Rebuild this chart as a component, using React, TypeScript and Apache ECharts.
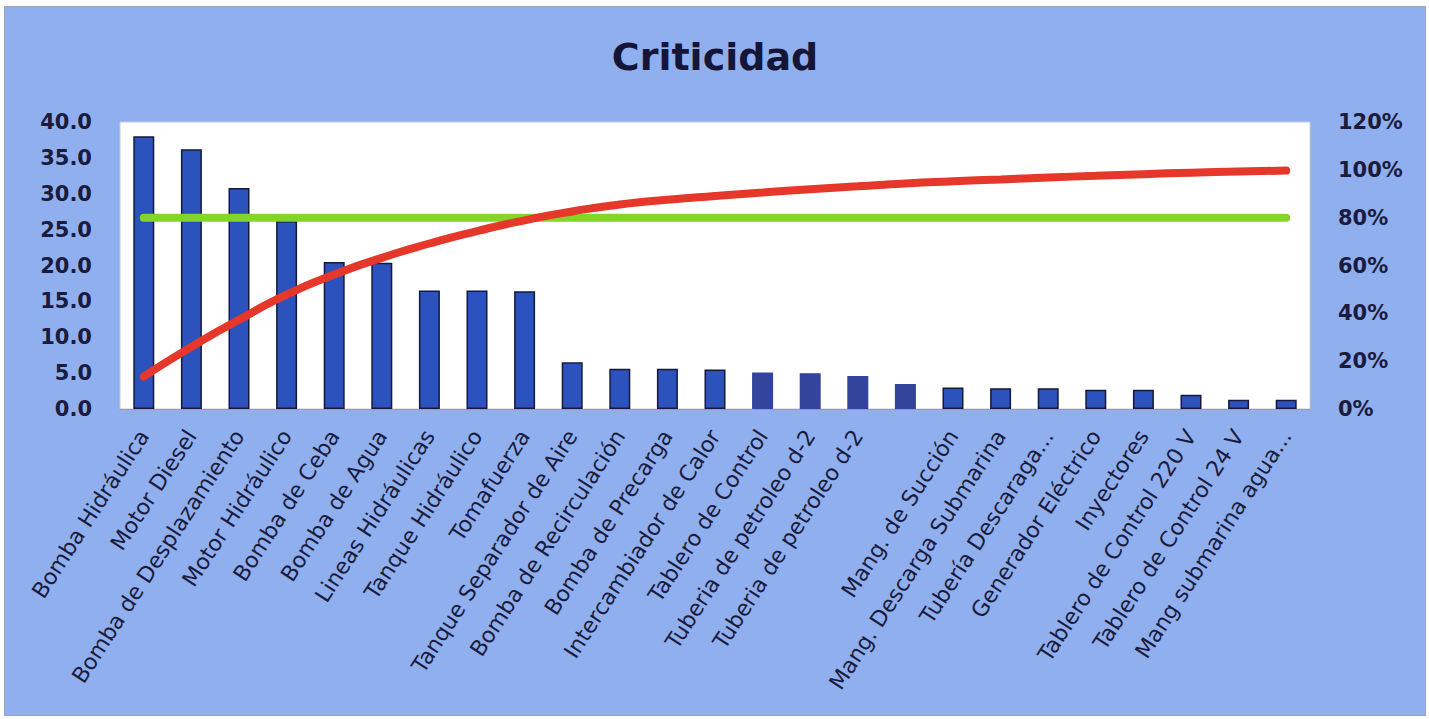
import React, { useEffect, useRef } from "react";
import * as echarts from "echarts";

const categories = [
  "Bomba Hidráulica",
  "Motor Diesel",
  "Bomba de Desplazamiento",
  "Motor Hidráulico",
  "Bomba de Ceba",
  "Bomba de Agua",
  "Lineas Hidráulicas",
  "Tanque Hidráulico",
  "Tomafuerza",
  "Tanque Separador de Aire",
  "Bomba de Recirculación",
  "Bomba de Precarga",
  "Intercambiador de Calor",
  "Tablero de Control",
  "Tuberia de petroleo d-2",
  "Tuberia de petroleo d-2",
  "",
  "Mang. de Succión",
  "Mang. Descarga Submarina",
  "Tubería Descaraga...",
  "Generador Eléctrico",
  "Inyectores",
  "Tablero de Control 220 V",
  "Tablero de Control 24 V",
  "Mang submarina agua...",
];

const criticidad = [
  38.0, 36.2, 30.8, 26.2, 20.5, 20.4, 16.5, 16.5, 16.4, 6.5, 5.6, 5.6, 5.5,
  5.1, 5.0, 4.6, 3.5, 3.0, 2.9, 2.9, 2.7, 2.7, 2.0, 1.3, 1.3,
];

const acumulado = [
  13.6, 26.0, 37.3, 47.8, 56.2, 63.2, 69.2, 74.4, 78.9, 82.6, 85.5, 87.5,
  89.1, 90.5, 91.9, 93.1, 94.3, 95.2, 96.0, 96.8, 97.5, 98.2, 98.8, 99.3, 99.7,
];

const referencia80 = [
  80, 80, 80, 80, 80, 80, 80, 80, 80, 80, 80, 80, 80, 80, 80, 80, 80, 80, 80,
  80, 80, 80, 80, 80, 80,
];

const leftTicks = { min: 0, max: 40, interval: 5 };
const rightTicks = { min: 0, max: 120, interval: 20 };

export default function App() {
  const ref = useRef<HTMLDivElement>(null);

  useEffect(() => {
    if (!ref.current) return;
    const chart = echarts.init(ref.current, undefined, { renderer: "svg" });
    const darkText = "#1b1b3d";
    const barData = criticidad.map((v, i) =>
      i >= 13 && i <= 16
        ? { value: v, itemStyle: { color: "#33449c", borderColor: "#33449c" } }
        : v
    );
    chart.setOption({
      animation: false,
      backgroundColor: "#8fafef",
      title: {
        text: "Criticidad",
        left: "center",
        top: 31,
        padding: 0,
        textStyle: {
          fontFamily: "DejaVu Sans",
          fontWeight: "bold",
          fontSize: 38,
          color: "#151538",
        },
      },
      grid: {
        left: 115,
        right: 115,
        top: 115,
        bottom: 306,
        show: true,
        backgroundColor: "#ffffff",
        borderColor: "#c8c8d8",
        borderWidth: 1,
      },
      xAxis: {
        type: "category",
        data: categories,
        axisLine: { show: true, lineStyle: { color: "#9a9aaa", width: 1 } },
        axisTick: { show: false },
        axisLabel: {
          interval: 0,
          rotate: 57,
          margin: 23,
          fontFamily: "DejaVu Sans",
          fontSize: 22,
          color: darkText,
        },
      },
      yAxis: [
        {
          type: "value",
          min: leftTicks.min,
          max: leftTicks.max,
          interval: leftTicks.interval,
          splitLine: { show: false },
          axisLine: { show: false },
          axisTick: { show: false },
          axisLabel: {
            margin: 28,
            fontFamily: "DejaVu Sans",
            fontWeight: "bold",
            fontSize: 21,
            color: darkText,
            formatter: (v: number) => v.toFixed(1),
          },
        },
        {
          type: "value",
          min: rightTicks.min,
          max: rightTicks.max,
          interval: rightTicks.interval,
          splitLine: { show: false },
          axisLine: { show: false },
          axisTick: { show: false },
          axisLabel: {
            margin: 28,
            fontFamily: "DejaVu Sans",
            fontWeight: "bold",
            fontSize: 21,
            color: darkText,
            formatter: (v: number) => v + "%",
          },
        },
      ],
      series: [
        {
          type: "bar",
          name: "Criticidad",
          data: barData,
          barWidth: 21,
          itemStyle: {
            color: "#2b52bd",
            borderColor: "#141a3a",
            borderWidth: 1.5,
          },
          z: 2,
        },
        {
          type: "line",
          name: "80%",
          yAxisIndex: 1,
          data: referencia80,
          showSymbol: false,
          symbol: "none",
          lineStyle: { color: "#84d52a", width: 8, cap: "round" },
          z: 3,
        },
        {
          type: "line",
          name: "Acumulado",
          yAxisIndex: 1,
          data: acumulado,
          smooth: 0.6,
          showSymbol: false,
          symbol: "none",
          lineStyle: { color: "#e5372a", width: 8, cap: "round" },
          z: 4,
        },
      ],
    });
    return () => chart.dispose();
  }, []);

  return (
    <div
      style={{
        position: "fixed",
        left: 0,
        top: 0,
        width: 1429,
        height: 719,
        background: "#ffffff",
      }}
    >
      <div
        ref={ref}
        style={{
          position: "absolute",
          left: 5,
          top: 7,
          width: 1420,
          height: 708,
          boxShadow: "0 0 0 1px #a0a4b8",
        }}
      />
    </div>
  );
}
